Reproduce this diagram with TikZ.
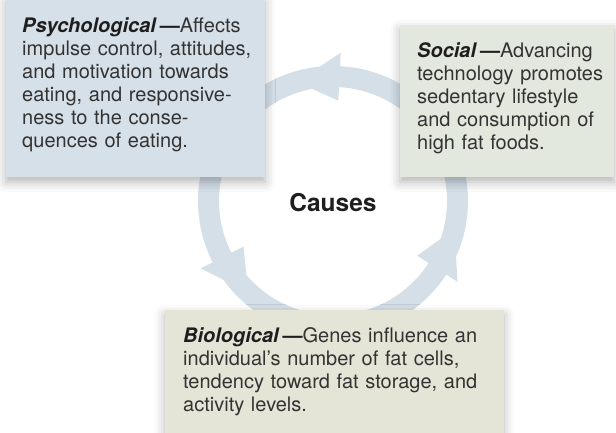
\documentclass[tikz,border=0pt]{standalone}
\usepackage{fontspec}
\setmainfont{TeX Gyre Heros}
\usetikzlibrary{shadows.blur}
\definecolor{psyfill}{HTML}{D6E0E8}
\definecolor{socfill}{HTML}{E2E8DD}
\definecolor{biofill}{HTML}{E4E4D7}
\definecolor{ring}{HTML}{D4DFE8}
\definecolor{ink}{HTML}{1E1E1E}
\definecolor{body}{HTML}{333333}

\begin{document}
\begin{tikzpicture}[x=1pt,y=1pt,
    boxtext/.style={anchor=base west,inner sep=0pt,align=left,text width=270pt,
                    text=body,font=\fontsize{20}{22.9}\selectfont},
    boxshadow/.style={blur shadow={shadow xshift=0pt,shadow yshift=-5pt,
                      shadow blur radius=10pt,shadow opacity=30}}]
  \useasboundingbox (0,0) rectangle (616,433);
  \coordinate (c) at (333,232);
  % the cycle ring with its three heads
  \fill[ring,even odd rule] (c) circle (135pt) (c) circle (114pt);
  \foreach \a in {87,207,327}{
    \fill[ring,shift={(c)}] (\a:148.5) -- (\a+20:124.5) -- (\a:100.5) -- cycle;
  }
  % boxes
  \fill[psyfill,boxshadow] (6,256) rectangle (265,436);
  \fill[socfill,boxshadow] (400,256) rectangle (614,408);
  \fill[biofill,boxshadow] (165,-3) rectangle (504,123);
  % texts
  \node[boxtext] (psych) at (22,400)
    {\textcolor{ink}{\textbf{\textit{Psychological}}\kern3pt\textbf{—}}Affects\\
     impulse control, attitudes,\\
     and motivation towards\\
     eating, and responsive-\\
     ness to the conse-\\
     quences of eating.};
  \node[boxtext] (social) at (417,375)
    {\textcolor{ink}{\textbf{\textit{Social}}\kern3pt\textbf{—}}Advancing\\
     technology promotes\\
     sedentary lifestyle\\
     and consumption of\\
     high fat foods.};
  \node[boxtext,text width=330pt] (bio) at (183,90)
    {\textcolor{ink}{\textbf{\textit{Biological}}\kern3pt\textbf{—}}Genes influence an\\
     individual’s number of fat cells,\\
     tendency toward fat storage, and\\
     activity levels.};
  \node[anchor=base,inner sep=0pt,text=ink,font=\fontsize{24.5}{28}\selectfont\bfseries]
    (causes) at (333,221) {Causes};
\end{tikzpicture}
\end{document}
